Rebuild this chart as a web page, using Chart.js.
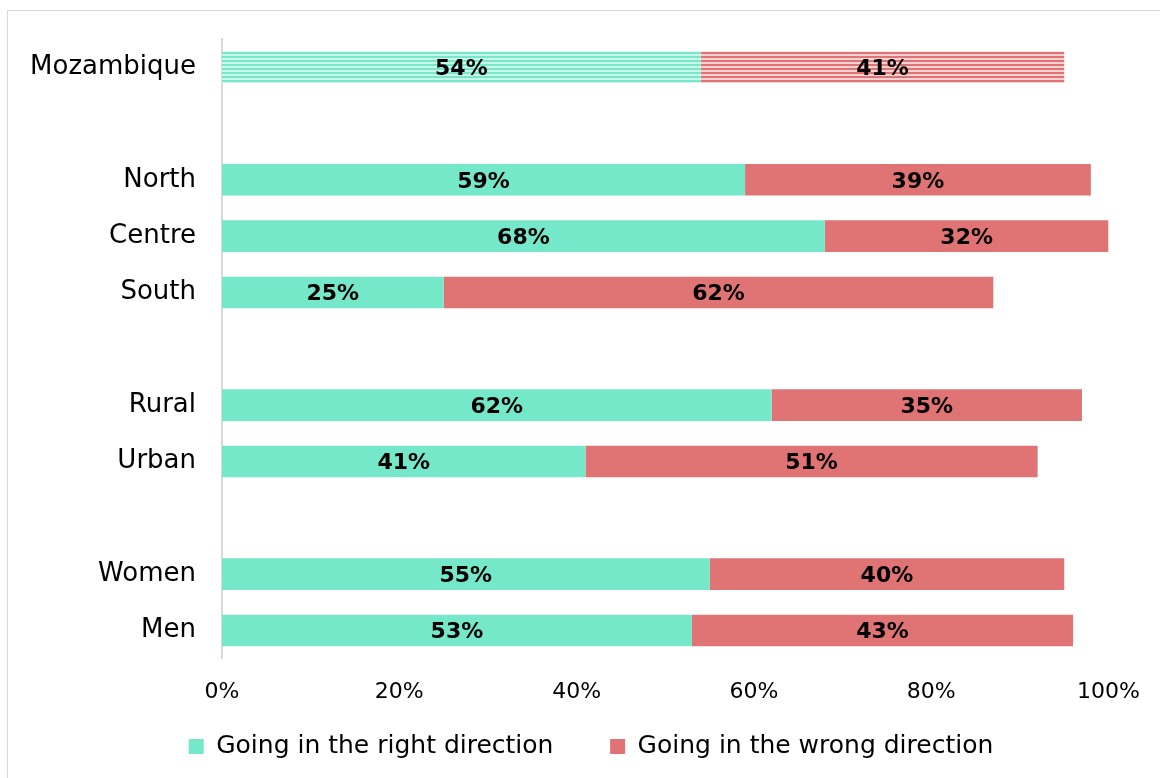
<!DOCTYPE html>
<html>
<head>
<meta charset="utf-8">
<script src="https://cdn.jsdelivr.net/npm/chart.js@4"></script>
<style>
    body { margin: 0; background: #ffffff; }
    #wrap { position: absolute; left: 0; top: 0; width: 1160px; height: 778px; }
</style>
</head>
<body>
<div id="wrap"><canvas id="bar-chart" width="1160" height="778"></canvas></div>
<script>
var Categories = ['Mozambique', '', 'North', 'Centre', 'South', '', 'Rural', 'Urban', '', 'Women', 'Men'];
var RightDirection = [54, null, 59, 68, 25, null, 62, 41, null, 55, 53];
var WrongDirection = [41, null, 39, 32, 62, null, 35, 51, null, 40, 43];
var XTicks = [0, 20, 40, 60, 80, 100];

var mint = 'rgb(118, 232, 202)';
var red = 'rgb(224, 115, 116)';
var fontName = "'DejaVu Sans', sans-serif";

function stripes(color, pale) {
    let c = document.createElement('canvas');
    c.width = 8;
    c.height = 4;
    let ctx = c.getContext('2d');
    ctx.fillStyle = pale;
    ctx.fillRect(0, 0, 8, 4);
    ctx.fillStyle = color;
    ctx.fillRect(0, 0, 8, 2);
    return document.getElementById('bar-chart').getContext('2d').createPattern(c, 'repeat');
}

function colorsFor(values, color, pattern) {
    let colors = [];
    for (let i = 0; i < values.length; i++) {
        colors.push(i === 0 ? pattern : color);
    }
    return colors;
}

// value labels in the middle of each bar
var barLabels = {
    id: 'barLabels',
    afterDatasetsDraw: function (chart) {
        let ctx = chart.ctx;
        ctx.save();
        ctx.font = 'bold 22px ' + fontName;
        ctx.fillStyle = '#000000';
        ctx.textAlign = 'center';
        ctx.textBaseline = 'middle';
        chart.data.datasets.forEach(function (ds, di) {
            chart.getDatasetMeta(di).data.forEach(function (bar, i) {
                if (ds.data[i] == null) return;
                let p = bar.getProps(['x', 'y', 'base']);
                ctx.fillText(ds.data[i] + '%', (p.x + p.base) / 2, p.y + 2);
            });
        });
        ctx.restore();
    }
};

// thin grey frame round the whole picture
var frame = {
    id: 'frame',
    beforeDraw: function (chart) {
        let ctx = chart.ctx;
        ctx.save();
        ctx.strokeStyle = '#d9d9d9';
        ctx.lineWidth = 1;
        ctx.strokeRect(7.5, 10.5, 1160, 780);
        ctx.restore();
    }
};

// legend sits a bit right of the plot centre
var legendShift = {
    id: 'legendShift',
    afterLayout: function (chart) {
        chart.legend.left += 36;
        chart.legend.right += 36;
    }
};

function createBarChart() {
    let barChart = new Chart('bar-chart', {
        type: 'bar',
        data: {
            labels: Categories,
            datasets: [{
                label: 'Going in the right direction',
                data: RightDirection,
                backgroundColor: colorsFor(RightDirection, mint, stripes(mint, 'rgb(205, 246, 235)')),
                borderWidth: 0,
                categoryPercentage: 1,
                barPercentage: 0.56
            }, {
                label: 'Going in the wrong direction',
                data: WrongDirection,
                backgroundColor: colorsFor(WrongDirection, red, stripes(red, 'rgb(246, 210, 210)')),
                borderWidth: 0,
                categoryPercentage: 1,
                barPercentage: 0.56
            }]
        },
        options: {
            indexAxis: 'y',
            responsive: false,
            animation: false,
            layout: {
                padding: { top: 39, right: 50, left: 0, bottom: 9 }
            },
            scales: {
                x: {
                    stacked: true,
                    min: 0,
                    max: 100,
                    afterBuildTicks: function (axis) {
                        axis.ticks = XTicks.map(function (v) { return { value: v }; });
                    },
                    grid: { display: false, drawTicks: false },
                    border: { display: false },
                    ticks: {
                        padding: 20,
                        color: '#000000',
                        font: { family: fontName, size: 22 },
                        callback: function (v) { return v + '%'; }
                    }
                },
                y: {
                    stacked: true,
                    afterFit: function (axis) {
                        axis.width = 222;
                        axis.paddingTop = 0;
                        axis.paddingBottom = 0;
                    },
                    grid: { display: false, drawTicks: false },
                    border: { display: true, color: '#d9d9d9', width: 2 },
                    ticks: {
                        padding: 26,
                        color: '#000000',
                        font: { family: fontName, size: 26 },
                        autoSkip: false
                    }
                }
            },
            plugins: {
                legend: {
                    position: 'bottom',
                    labels: {
                        color: '#000000',
                        font: { family: fontName, size: 25 },
                        boxWidth: 15,
                        boxHeight: 15,
                        padding: 9,
                        generateLabels: function (chart) {
                            let items = Chart.defaults.plugins.legend.labels.generateLabels(chart);
                            let solid = [mint, red];
                            items.forEach(function (item, i) {
                                item.fillStyle = solid[i];
                                item.strokeStyle = solid[i];
                                item.lineWidth = 0;
                            });
                            // wider gap between the two entries
                            items[0].text = items[0].text + '      ';
                            return items;
                        }
                    }
                },
                tooltip: { enabled: false }
            }
        },
        plugins: [barLabels, frame, legendShift]
    });
    return barChart;
}

createBarChart();
</script>
</body>
</html>
